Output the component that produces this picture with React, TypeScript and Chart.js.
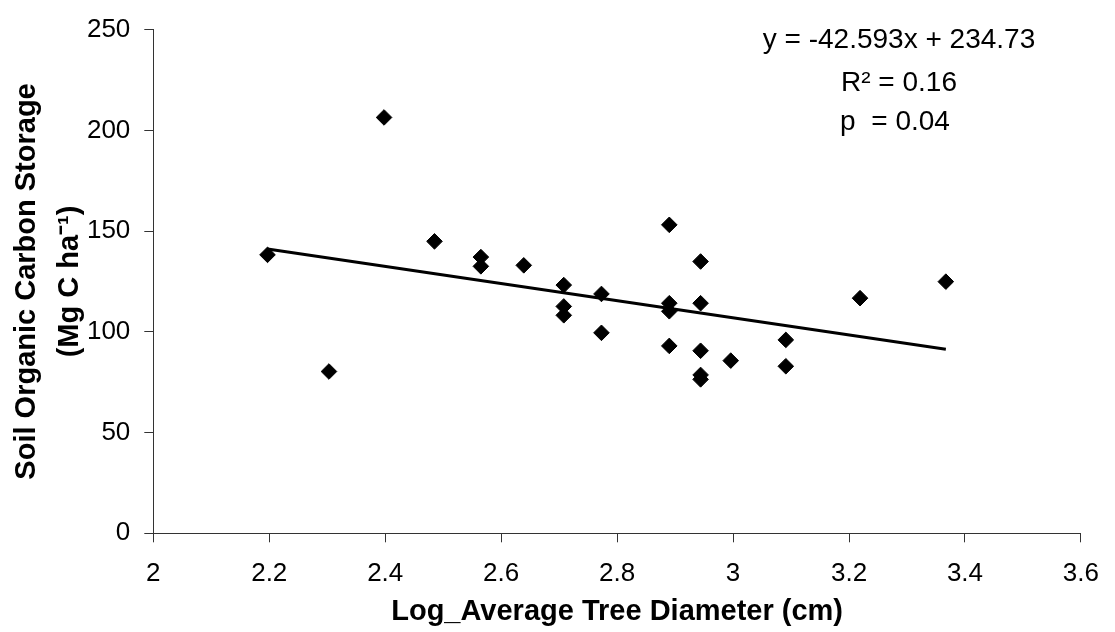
import React, { useEffect, useRef } from "react";
import { Chart, registerables } from "chart.js";

Chart.register(...registerables);

// ---- Data ----
const xValues: number[] = [
  2.197, 2.303, 2.398, 2.485, 2.565, 2.565, 2.639, 2.708, 2.708, 2.708, 2.773, 2.773, 2.89,
  2.89, 2.89, 2.89, 2.944, 2.944, 2.944, 2.944, 2.944, 2.996, 3.091, 3.091, 3.219, 3.367,
];
const yValues: number[] = [
  138.2, 80.3, 206.4, 144.9, 137.1, 132.5, 133.0, 123.2, 112.6, 108.2, 118.8, 99.5, 153.1,
  114.2, 110.2, 93.0, 134.9, 114.2, 90.6, 78.6, 76.4, 85.7, 96.0, 82.9, 116.7, 124.9,
];
const slope = -42.593;
const intercept = 234.73;
const annotationLines: string[] = ["y = -42.593x + 234.73", "R² = 0.16", "p  = 0.04"];
const xAxisTitle = "Log_Average Tree Diameter (cm)";
const yAxisTitle: string[] = ["Soil Organic Carbon Storage", "(Mg C ha⁻¹)"];
const xMin = 2;
const xMax = 3.6;
const xStep = 0.2;
const yMin = 0;
const yMax = 250;
const yStep = 50;

const FONT = '"Liberation Sans", Arial, Helvetica, sans-serif';
const AXIS_COLOR = "#333333";

const annotationPlugin = {
  id: "regressionText",
  afterDraw(chart: any) {
    const ctx = chart.ctx as CanvasRenderingContext2D;
    ctx.save();
    ctx.fillStyle = "#000";
    ctx.font = `28px ${FONT}`;
    ctx.textAlign = "center";
    ctx.textBaseline = "alphabetic";
    const cx = [899, 899, 895];
    const by = [47.5, 90.5, 130];
    annotationLines.forEach((t, i) => ctx.fillText(t, cx[i], by[i]));
    ctx.restore();
  },
};

export default function App() {
  const canvasRef = useRef<HTMLCanvasElement | null>(null);

  useEffect(() => {
    if (!canvasRef.current) return;
    const scatterData = xValues.map((x, i) => ({ x, y: yValues[i] }));
    const xLo = Math.min(...xValues);
    const xHi = Math.max(...xValues);
    const trendData = [
      { x: xLo, y: slope * xLo + intercept },
      { x: xHi, y: slope * xHi + intercept },
    ];

    const chart = new Chart(canvasRef.current, {
      type: "scatter",
      data: {
        datasets: [
          {
            type: "line" as any,
            data: trendData,
            borderColor: "#000",
            borderWidth: 3,
            pointRadius: 0,
            fill: false,
            showLine: true,
            order: 2,
          } as any,
          {
            data: scatterData,
            pointStyle: "rectRot",
            pointRadius: 7.8,
            pointBackgroundColor: "#000",
            pointBorderColor: "#000",
            pointBorderWidth: 1,
            order: 1,
          } as any,
        ],
      },
      options: {
        animation: false,
        responsive: false,
        devicePixelRatio: 1,
        layout: { padding: { left: 0, top: 22.7, right: 25, bottom: 0 } },
        plugins: {
          legend: { display: false },
          tooltip: { enabled: false },
        },
        scales: {
          x: {
            type: "linear",
            min: xMin,
            max: xMax,
            afterFit: (scale: any) => {
              scale.height = 98.7;
            },
            ticks: {
              stepSize: xStep,
              color: "#000",
              font: { family: FONT, size: 26 },
              padding: 16,
              maxRotation: 0,
              autoSkip: false,
              callback: (v: any) => String(Number(Number(v).toFixed(1))),
            },
            grid: {
              display: true,
              drawOnChartArea: false,
              drawTicks: true,
              tickLength: 9,
              color: AXIS_COLOR,
              lineWidth: 1,
            },
            border: { display: true, color: AXIS_COLOR, width: 1 },
            title: {
              display: true,
              text: xAxisTitle,
              color: "#000",
              font: { family: FONT, size: 29, weight: "bold", lineHeight: 1.2 },
              padding: { top: 0, bottom: 2.6 },
            },
          },
          y: {
            type: "linear",
            min: yMin,
            max: yMax,
            afterFit: (scale: any) => {
              scale.width = 153.3;
            },
            ticks: {
              stepSize: yStep,
              color: "#000",
              font: { family: FONT, size: 26 },
              padding: 14,
            },
            grid: {
              display: true,
              drawOnChartArea: false,
              drawTicks: true,
              tickLength: 9,
              color: AXIS_COLOR,
              lineWidth: 1,
            },
            border: { display: true, color: AXIS_COLOR, width: 1 },
            title: {
              display: true,
              text: yAxisTitle,
              color: "#000",
              font: { family: FONT, size: 29, weight: "bold", lineHeight: 1.5 },
              padding: { top: 5, bottom: 0 },
            },
          },
        },
      } as any,
      plugins: [annotationPlugin],
    });

    return () => chart.destroy();
  }, []);

  return (
    <div style={{ position: "absolute", left: 0, top: 0, width: 1115, height: 632, background: "#fff" }}>
      <canvas ref={canvasRef} width={1115} height={632} style={{ display: "block" }} />
    </div>
  );
}
